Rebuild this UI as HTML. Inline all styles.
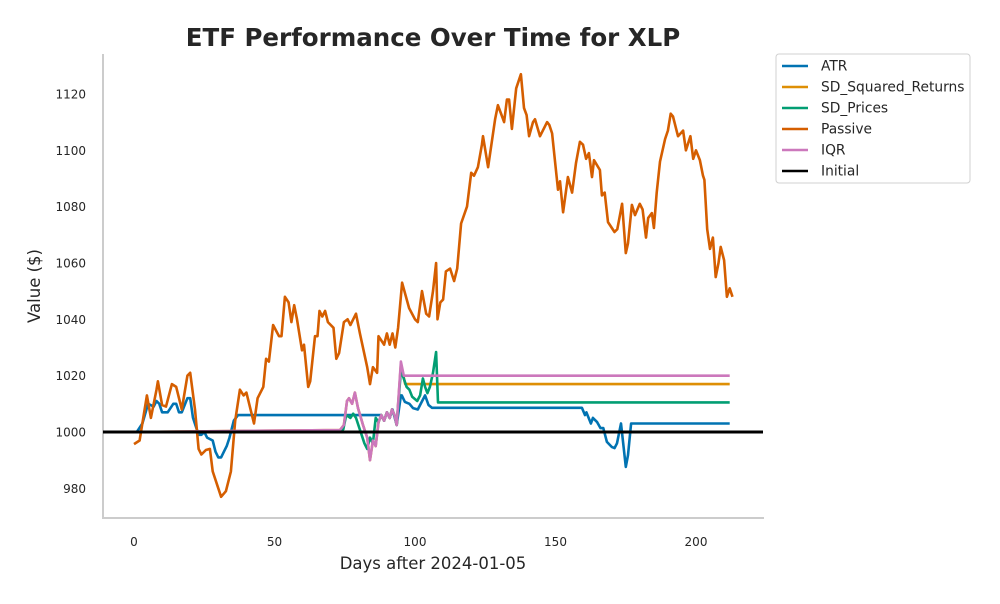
<!DOCTYPE html>
<html><head><meta charset="utf-8"><style>
body{margin:0;background:#fff;font-family:"DejaVu Sans","Liberation Sans",sans-serif}
</style></head><body>
<svg id="chart" width="1000" height="600" viewBox="0 0 1000 600" xmlns="http://www.w3.org/2000/svg" font-family="DejaVu Sans, Liberation Sans, sans-serif">
<rect width="1000" height="600" fill="#fff"/>
<text x="433" y="46" text-anchor="middle" font-size="24.5" font-weight="bold" fill="#262626">ETF Performance Over Time for XLP</text>
<g id="axes"></g>
<g id="series"></g>
<text x="433" y="569" text-anchor="middle" font-size="16.5" fill="#262626">Days after 2024-01-05</text>
<text x="40" y="286" text-anchor="middle" font-size="16.5" fill="#262626" transform="rotate(-90 40 286)">Value ($)</text>
<g id="legend"></g>
</svg>
<script>
const xTicks=[0,50,100,150,200];
const yTicks=[980,1000,1020,1040,1060,1080,1100,1120];
const initialValue=1000;
const passiveDays=[0,2,4.6,6,8,8.5,10,11.4,13.5,15,17,19,20,21.7,23,24,25.6,27,28,30,31,32.7,34.5,36,37.7,39,40,42.7,44,46,47,48,49.5,51.6,52.5,53.7,55,56,57,58,59.8,60.5,62,62.7,64.4,65.3,66,67,68,69,71,72,73,74.7,76,77,79,80.4,83,84,85,86.5,87,89,90,91,92,93,94,95.4,97.9,100,101,102.5,104,105,106.4,107.5,108,109,110,111,112.5,113.9,115,116.4,118.5,120,121,122.4,123.8,124.2,126,128.5,129.5,131,131.7,132.7,133.5,134.5,136,137.7,138.8,139.7,140.6,142,142.7,144.5,147,147.8,148.8,149.8,150.9,151.6,152.7,154.4,155.9,157.3,158.7,159.8,160.9,161.9,163,163.7,165.8,166.5,167.5,168.7,171,172,173.7,175,175.8,177.2,178.3,180,181,182.2,183,184.3,185,186,187.2,189,190,191,191.8,193.6,195.4,196.4,198,199,200,201.4,202.5,203,204,205,206,207,208,208.8,210,211,212,213];
const passiveValues=[995.7,997,1013,1005,1015,1018,1009.6,1009,1017,1016,1008,1020,1021,1008,994,992,993.6,994,986,980,977,979,986,1004,1015,1013,1014,1003,1012,1016,1026,1025,1038,1034,1034,1048,1046,1039,1045,1040,1029,1031,1016,1018,1034,1034,1043,1041,1043,1039,1037,1026,1028,1039,1040,1038,1042,1035,1023,1017,1023,1021,1034,1031,1035,1031,1035,1030,1037,1053,1044,1040,1039,1050,1042,1041,1050,1060,1040,1046,1047,1057,1058,1053.6,1058,1074,1080,1092,1091,1094,1102,1105,1094,1111,1116,1112,1110,1118,1118,1107.6,1122,1127,1115,1112.5,1105,1110,1111,1105,1110,1109,1106,1096.5,1086,1089,1078,1090.5,1085,1095.5,1103,1102,1097,1099,1090.5,1096.5,1093,1084,1085,1074.5,1071,1072,1081,1063.5,1067,1080.6,1077,1081,1079,1069,1076,1077.7,1072.4,1085,1096,1104,1107,1113,1112,1105,1107,1100,1105,1097,1100,1096.5,1091,1089.5,1072,1065,1069,1055,1060,1065.7,1061,1048,1051,1048];
const atrDays=[0,1,3,5,7,8,9,10,12,14,15,16,17,19,20,21,23,24,25,26,28,29,30,31,32,33,34,35.5,37,87.5,88,89,90,91,92,93.5,95,95.3,96.4,98,99.3,101,102.4,103.6,104.8,106,159.4,160.5,161,162.6,163.3,164.8,166,167,168.3,170,171,171.9,173.3,175,175.8,176.9,212];
const atrValues=[1000,1000,1003,1010,1009,1011,1010,1007,1007,1010,1010,1007,1007,1012,1012,1005,999,999,1000,998,997,993,991,991,993,995,998,1004,1006,1006,1006,1004,1007,1005,1008,1002.5,1013,1013,1010.7,1010,1008.5,1008,1010.7,1013,1009.6,1008.6,1008.6,1006,1007,1003,1005,1003.5,1001.4,1001.4,996.5,994.7,994.3,996,1003,987.6,991.8,1003,1003];
const iqrDays=[0,73.3,74.7,75.8,76.5,77.6,78.6,79.7,81.5,83,84,85,86,87,88,89,90,91,91.8,92.7,93.5,95,96,212];
const iqrValues=[1000,1000.7,1002.5,1011,1012,1010,1014,1008.5,1002.5,998,990,997,995,1003.5,1006,1004,1007,1005,1008,1006,1002.5,1025,1020,1020];
const sdPricesDays=[0,73.5,74.5,75.5,77,78,79,80,81,82,83,84,85,86,87,88,89,90,91,91.8,92.7,93.5,95,97,98,99,100.8,101.8,102.8,103.6,104.4,105.3,106.4,107.5,108.2,212];
const sdPricesValues=[1000,1000,1001,1006,1005,1006.5,1005,1002,999,996,994,998,996,1005,1003.5,1006,1004,1007,1005,1008,1006,1002.5,1022,1016,1015,1012.5,1011,1013,1019,1016,1013.8,1016,1021,1028.4,1010.5,1010.5];
const sdSquaredDays=[0,73.3,74.7,75.8,76.5,77.6,78.6,79.7,81.5,83,84,85,86,87,88,89,90,91,91.8,92.7,93.5,95,96.5,212];
const sdSquaredValues=[1000,1000.7,1002.5,1011,1012,1010,1014,1008.5,1002.5,998,990,997,995,1003.5,1006,1004,1007,1005,1008,1006,1002.5,1024,1017,1017];

const NS="http://www.w3.org/2000/svg";
const X0=134,XS=2.81,Y0=432,YS=2.817;
function xs(d){return X0+d*XS;}
function ys(v){return Y0-(v-1000)*YS;}
function mk(tag,attrs,parent){const e=document.createElementNS(NS,tag);for(const k in attrs)e.setAttribute(k,attrs[k]);parent.appendChild(e);return e;}
const axes=document.getElementById('axes');
let l=mk('line',{x1:103,y1:54,x2:103,y2:518,stroke:'#cccccc','stroke-width':2},axes);


l=mk('line',{x1:102,y1:518,x2:764,y2:518,stroke:'#cccccc','stroke-width':2},axes);


xTicks.forEach(t=>{const e=mk('text',{x:xs(t),y:546,'text-anchor':'middle','font-size':12,fill:'#262626'},axes);e.textContent=t;

});
yTicks.forEach(t=>{const e=mk('text',{x:86,y:ys(t)+4.5,'text-anchor':'end','font-size':12,fill:'#262626'},axes);e.textContent=t;

});
const series=document.getElementById('series');
function draw(days,vals,color,name){const d=days.map((x,i)=>(i?'L':'M')+xs(x).toFixed(1)+','+ys(vals[i]).toFixed(1)).join('');
const p=mk('path',{d:d,fill:'none',stroke:color,'stroke-width':2.6,'stroke-linejoin':'round'},series);

}
draw(atrDays,atrValues,'#0173b2','atr-line');
draw(sdSquaredDays,sdSquaredValues,'#de8f05','sd-squared-returns-line');
draw(sdPricesDays,sdPricesValues,'#029e73','sd-prices-line');
draw(passiveDays,passiveValues,'#d55e00','passive-line');
draw(iqrDays,iqrValues,'#cc78bc','iqr-line');
const il=mk('line',{x1:103,x2:763,y1:ys(initialValue),y2:ys(initialValue),stroke:'#000','stroke-width':3},series);


const lg=document.getElementById('legend');
mk('rect',{x:776,y:54,width:194,height:129,rx:3,fill:'#fff',stroke:'#d0d0d0','stroke-width':1},lg);
const entries=[['ATR','#0173b2'],['SD_Squared_Returns','#de8f05'],['SD_Prices','#029e73'],['Passive','#d55e00'],['IQR','#cc78bc'],['Initial','#000']];
entries.forEach((en,i)=>{const y=66+i*21;const g=mk('g',{},lg);


mk('line',{x1:782,x2:808,y1:y,y2:y,stroke:en[1],'stroke-width':2.6},g);
const t=mk('text',{x:821,y:y+4.5,'font-size':13.8,fill:'#262626'},g);t.textContent=en[0];});
</script>
</body></html>
